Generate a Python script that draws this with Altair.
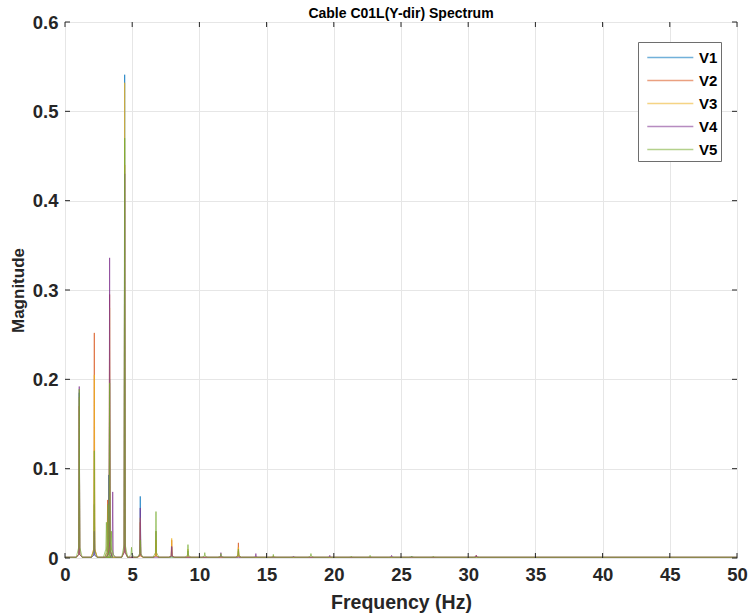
import altair as alt
import pandas as pd

# Spectral peaks per channel: centre frequency (Hz), peak magnitude, skirt height
series_names = ["V1", "V2", "V3", "V4", "V5"]
series_colors = ["#0072BD", "#D95319", "#EDB120", "#7E2F8E", "#77AC30"]

v1_freq = [1.06, 2.18, 3.25, 3.32, 4.44, 5.60, 6.77, 7.94, 9.15, 12.90, 25.80, 30.60]
v1_mag = [0.185, 0.060, 0.093, 0.200, 0.541, 0.069, 0.030, 0.012, 0.008, 0.008, 0.002, 0.002]
v1_skirt = [0.004, 0.003, 0.004, 0.006, 0.008, 0.003, 0.002, 0.001, 0.001, 0.001, 0.001, 0.001]

v2_freq = [1.06, 2.18, 3.17, 3.32, 4.44, 5.60, 6.77, 7.94, 12.90, 15.50, 30.60]
v2_mag = [0.170, 0.252, 0.065, 0.295, 0.440, 0.040, 0.020, 0.020, 0.017, 0.002, 0.003]
v2_skirt = [0.004, 0.010, 0.006, 0.008, 0.006, 0.002, 0.002, 0.002, 0.002, 0.001, 0.001]

v3_freq = [1.06, 2.18, 3.32, 4.44, 5.60, 6.77, 7.94, 9.15, 12.90]
v3_mag = [0.180, 0.205, 0.280, 0.532, 0.045, 0.030, 0.022, 0.010, 0.012]
v3_skirt = [0.004, 0.010, 0.008, 0.008, 0.002, 0.002, 0.002, 0.001, 0.001]

v4_freq = [1.06, 2.18, 3.32, 3.55, 4.44, 5.60, 7.94, 11.60, 14.20, 17.00, 19.70, 24.30, 30.60]
v4_mag = [0.192, 0.030, 0.336, 0.074, 0.430, 0.056, 0.013, 0.006, 0.005, 0.002, 0.003, 0.003, 0.003]
v4_skirt = [0.004, 0.003, 0.008, 0.004, 0.006, 0.003, 0.002, 0.001, 0.001, 0.001, 0.001, 0.001, 0.001]

v5_freq = [1.06, 2.18, 3.08, 3.20, 3.32, 3.45, 4.44, 4.95, 5.60, 6.77, 9.15, 10.40, 11.60,
           12.90, 15.50, 18.30, 21.30, 22.70, 25.80, 27.40]
v5_mag = [0.189, 0.120, 0.040, 0.060, 0.196, 0.030, 0.470, 0.012, 0.020, 0.052, 0.015, 0.006,
          0.005, 0.010, 0.004, 0.005, 0.002, 0.003, 0.002, 0.002]
v5_skirt = [0.012, 0.008, 0.010, 0.014, 0.020, 0.010, 0.015, 0.004, 0.005, 0.006, 0.003, 0.002,
            0.002, 0.003, 0.001, 0.002, 0.001, 0.001, 0.001, 0.001]

noise_floor = 0.0008
x_ticks = [0, 5, 10, 15, 20, 25, 30, 35, 40, 45, 50]
y_ticks = [0, 0.1, 0.2, 0.3, 0.4, 0.5, 0.6]

peak_sets = [
    (v1_freq, v1_mag, v1_skirt),
    (v2_freq, v2_mag, v2_skirt),
    (v3_freq, v3_mag, v3_skirt),
    (v4_freq, v4_mag, v4_skirt),
    (v5_freq, v5_mag, v5_skirt),
]

# Build each channel's line: floor -> skirt -> peak -> skirt -> floor around every peak
rows = []
for name, (freqs, mags, skirts) in zip(series_names, peak_sets):
    pts = [(0.0, noise_floor)]
    for f, m, s in zip(freqs, mags, skirts):
        pts += [(f - 0.22, noise_floor), (f - 0.04, s), (f, m), (f + 0.04, s), (f + 0.22, noise_floor)]
    pts.append((50.0, noise_floor))
    for i, (f, m) in enumerate(pts):
        rows.append({"freq": f, "mag": m, "series": name, "idx": i})
spec = pd.DataFrame(rows)

W, H = 672, 536
FONT = "Liberation Sans, Arial"

x_scale = alt.Scale(domain=[0, 50], nice=False)
y_scale = alt.Scale(domain=[0, 0.6], nice=False)

# Legend swatch: a long horizontal stroke, offset right of the symbol centre
swatch = "M-0.54,0H3.46"

lines = alt.Chart(spec).mark_line(strokeWidth=1, opacity=0.65, clip=True).encode(
    x=alt.X("freq:Q", scale=x_scale,
            axis=alt.Axis(values=x_ticks, title="Frequency (Hz)", format="~g")),
    y=alt.Y("mag:Q", scale=y_scale,
            axis=alt.Axis(values=y_ticks, title="Magnitude", format="~g")),
    color=alt.Color("series:N",
                    scale=alt.Scale(domain=series_names, range=series_colors),
                    legend=alt.Legend(title=None, orient="none", legendX=573, legendY=20,
                                      symbolType=swatch, symbolSize=530,
                                      symbolStrokeWidth=1.5, symbolOpacity=0.55,
                                      fillColor="white",
                                      strokeColor="#6e6e6e", padding=3,
                                      labelFontSize=15, labelFontWeight="bold",
                                      labelFont=FONT, labelColor="#000000",
                                      labelOffset=33, rowPadding=2,
                                      labelExpr="datum.label + '\u00a0\u00a0\u00a0'")),
    order="idx:Q",
    detail="series:N",
)

# Inward tick marks on all four sides of the box
xt = pd.DataFrame({"t": x_ticks})
yt = pd.DataFrame({"t": y_ticks})
tick_color = "#262626"
xb = alt.Chart(xt).mark_rule(color=tick_color, strokeWidth=1).encode(
    x=alt.X("t:Q", scale=x_scale), y=alt.value(H), y2=alt.value(H - 5))
xtop = alt.Chart(xt).mark_rule(color=tick_color, strokeWidth=1).encode(
    x=alt.X("t:Q", scale=x_scale), y=alt.value(0), y2=alt.value(5))
yl = alt.Chart(yt).mark_rule(color=tick_color, strokeWidth=1).encode(
    y=alt.Y("t:Q", scale=y_scale), x=alt.value(0), x2=alt.value(5))
yr = alt.Chart(yt).mark_rule(color=tick_color, strokeWidth=1).encode(
    y=alt.Y("t:Q", scale=y_scale), x=alt.value(W), x2=alt.value(W - 5))

chart = alt.layer(lines, xb, xtop, yl, yr).properties(
    width=W, height=H,
    title=alt.TitleParams("Cable C01L(Y-dir) Spectrum", fontSize=14, font=FONT,
                          fontWeight="bold", color="#000000", anchor="middle",
                          offset=0, dy=8),
    autosize=alt.AutoSizeParams(type="none"),
    padding={"left": 65, "top": 22, "right": 12, "bottom": 57},
).configure_view(
    stroke="#8c8c8c", strokeWidth=1
).configure_axis(
    grid=True, gridColor="#e6e6e6", gridWidth=1, domain=False, tickSize=0,
    labelFont=FONT, labelFontSize=18.5, labelFontWeight="bold", labelColor="#262626",
    titleFont=FONT, titleFontWeight="bold", titleColor="#262626",
    labelPadding=7, labelFlush=False,
).configure_axisX(titlePadding=10, titleFontSize=19.5).configure_axisY(
    titlePadding=5, titleFontSize=17)

chart.save("out.html", embed_options={"renderer": "svg", "actions": False})
